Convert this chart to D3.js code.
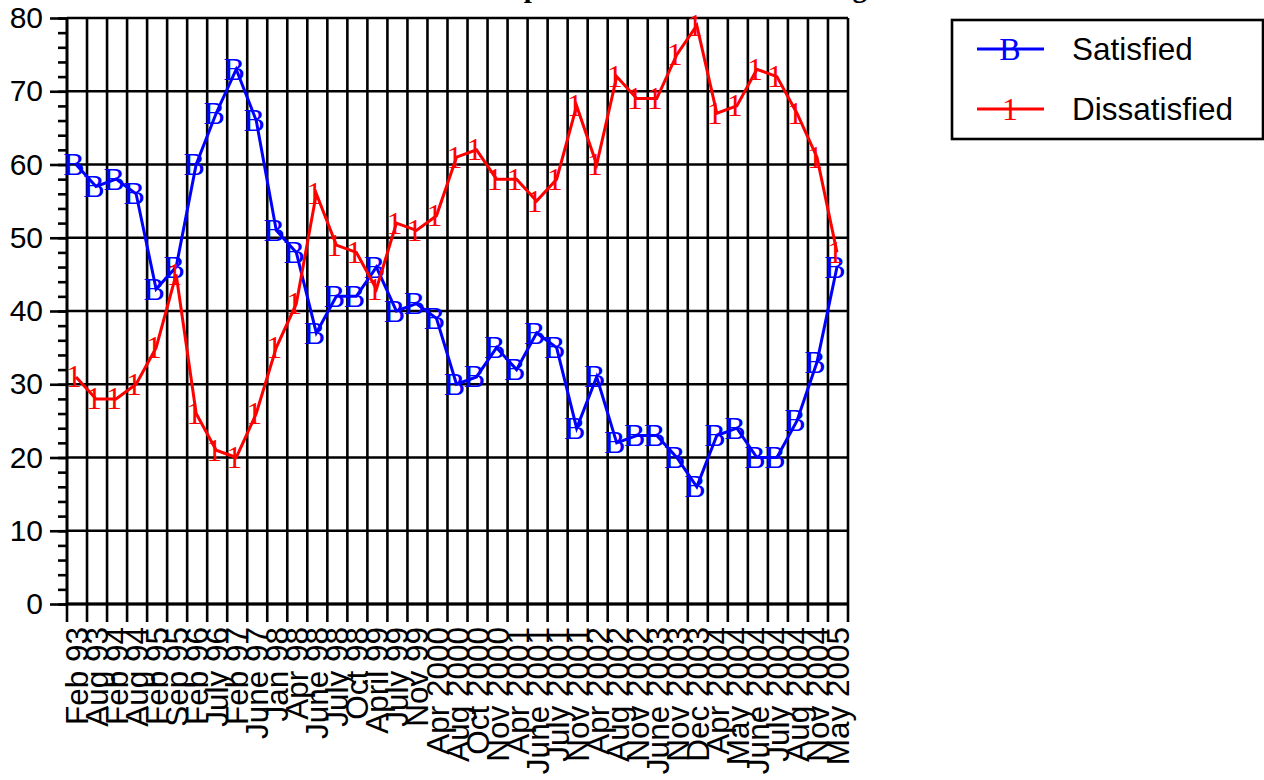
<!DOCTYPE html>
<html>
<head>
<meta charset="utf-8">
<script src="https://cdn.jsdelivr.net/npm/d3@7/dist/d3.min.js"></script>
<style>
  html, body { margin: 0; padding: 0; background: #fff; }
  #chart { width: 1264px; height: 780px; overflow: hidden; }
</style>
</head>
<body>
<div id="chart"></div>
<script>
// Survey dates (x categories)
const surveyDates = [
  'Feb 93', 'Aug 93', 'Feb 94', 'Aug 94', 'Feb 95', 'Sep 95', 'Feb 96', 'July 96',
  'Feb 97', 'June 97', 'Jan 98', 'Apr 98', 'June 98', 'July 98', 'Oct 98', 'April 99',
  'July 99', 'Nov 99', 'Apr 2000', 'Aug 2000', 'Oct 2000', 'Nov 2000', 'Apr 2001',
  'June 2001', 'July 2001', 'Nov 2001', 'Apr 2002', 'Aug 2002', 'Nov 2002', 'June 2003',
  'Nov 2003', 'Dec 2003', 'Apr 2004', 'May 2004', 'June 2004', 'July 2004', 'Aug 2004',
  'Nov 2004', 'May 2005'
];

// Percent satisfied / dissatisfied
const satisfiedValues = [
  60, 57, 58, 56, 43, 46, 60, 67, 73, 66, 51, 48, 37, 42, 42, 46, 40, 41, 39, 30,
  31, 35, 32, 37, 35, 24, 31, 22, 23, 23, 20, 16, 23, 24, 20, 20, 25, 33, 46
];
const dissatisfiedValues = [
  31, 28, 28, 30, 35, 45, 26, 21, 20, 26, 35, 41, 56, 49, 48, 43, 52, 51, 53, 61,
  62, 58, 58, 55, 58, 68, 60, 72, 69, 69, 75, 79, 67, 68, 73, 72, 67, 61, 48
];

const yTickValues = [0, 10, 20, 30, 40, 50, 60, 70, 80];
const yMinorTickValues = d3.range(0, 81, 2);
const seriesNames = ['Satisfied', 'Dissatisfied'];
const seriesMarkers = ['B', '1'];
const seriesColors = ['#0000ff', '#ff0000'];
const chartTitle = 'Public Opinion of the Nation Among Adults';

const width = 1264;
const height = 780;
const plot = { left: 67, right: 848, top: 18, bottom: 604 };

const sansFont = '"Liberation Sans", Arial, sans-serif';
const serifFont = '"Liberation Serif", "Times New Roman", serif';

const svg = d3.select('#chart')
  .append('svg')
  .attr('width', width)
  .attr('height', height);

// Scales
const x = d3.scaleBand()
  .domain(surveyDates)
  .range([plot.left, plot.right]);

const y = d3.scaleLinear()
  .domain([0, 80])
  .range([plot.bottom, plot.top]);

const cx = d => x(d) + x.bandwidth() / 2 - 1;

// Title (cut off at the top of the page, only descenders show)
svg.append('text')
  .attr('x', 415)
  .attr('y', -3)
  .style('font-family', serifFont)
  .style('font-weight', 'bold')
  .style('font-size', '29px')
  .text(chartTitle);

// Grid: horizontal lines at each major tick, vertical at every band edge
const bandEdges = surveyDates.map(d => x(d)).concat([plot.right]);

svg.append('g')
  .selectAll('line')
  .data(yTickValues)
  .join('line')
  .attr('x1', plot.left)
  .attr('x2', plot.right)
  .attr('y1', d => y(d))
  .attr('y2', d => y(d))
  .attr('stroke', '#000')
  .attr('stroke-width', 2.6);

svg.append('g')
  .selectAll('line')
  .data(bandEdges)
  .join('line')
  .attr('x1', d => d)
  .attr('x2', d => d)
  .attr('y1', plot.top)
  .attr('y2', plot.bottom + 18)
  .attr('stroke', '#000')
  .attr('stroke-width', 2.6);

// Y axis (major + minor ticks)
const yAxis = svg.append('g')
  .attr('transform', `translate(${plot.left},0)`)
  .call(d3.axisLeft(y).tickValues(yTickValues).tickSize(17).tickPadding(7));

yAxis.select('.domain').remove();
yAxis.selectAll('line').attr('stroke-width', 2.6);
yAxis.selectAll('text')
  .style('font-family', sansFont)
  .style('font-size', '30px')
  .attr('fill', '#000');

const yMinor = svg.append('g')
  .attr('transform', `translate(${plot.left},0)`)
  .call(d3.axisLeft(y).tickValues(yMinorTickValues).tickSize(9).tickFormat(''));

yMinor.select('.domain').remove();
yMinor.selectAll('line').attr('stroke-width', 2.6);

// X axis labels (rotated)
const xAxis = svg.append('g')
  .attr('transform', `translate(0,${plot.bottom})`)
  .call(d3.axisBottom(x).tickSize(0));

xAxis.select('.domain').remove();
xAxis.selectAll('text')
  .attr('transform', 'rotate(-90)')
  .attr('text-anchor', 'end')
  .attr('x', -23)
  .attr('y', 0)
  .attr('dy', '0.35em')
  .attr('fill', '#000')
  .style('font-family', sansFont)
  .style('font-size', '31.5px');

// Axis frame
svg.append('line')
  .attr('x1', plot.left).attr('x2', plot.left)
  .attr('y1', plot.top).attr('y2', plot.bottom)
  .attr('stroke', '#000').attr('stroke-width', 2.6);

svg.append('line')
  .attr('x1', plot.left).attr('x2', plot.right)
  .attr('y1', plot.bottom).attr('y2', plot.bottom)
  .attr('stroke', '#000').attr('stroke-width', 3);

// Series lines and glyph markers
const series = [satisfiedValues, dissatisfiedValues];

const line = d3.line()
  .x((d, i) => cx(surveyDates[i]))
  .y(d => y(d));

series.forEach((values, s) => {
  svg.append('path')
    .datum(values)
    .attr('fill', 'none')
    .attr('stroke', seriesColors[s])
    .attr('stroke-width', 3)
    .attr('d', line);

  svg.append('g')
    .selectAll('text')
    .data(values)
    .join('text')
    .attr('x', (d, i) => cx(surveyDates[i]) - 2)
    .attr('y', d => y(d))
    .attr('dy', '0.33em')
    .attr('text-anchor', 'middle')
    .attr('fill', seriesColors[s])
    .style('font-family', serifFont)
    .style('font-size', '32px')
    .text(seriesMarkers[s]);
});

// Legend
const legend = svg.append('g');

legend.append('rect')
  .attr('x', 952)
  .attr('y', 20)
  .attr('width', 311)
  .attr('height', 119)
  .attr('fill', '#fff')
  .attr('stroke', '#000')
  .attr('stroke-width', 2.6);

seriesNames.forEach((name, s) => {
  const rowY = 49 + s * 60;

  legend.append('line')
    .attr('x1', 977)
    .attr('x2', 1044)
    .attr('y1', rowY)
    .attr('y2', rowY)
    .attr('stroke', seriesColors[s])
    .attr('stroke-width', 3);

  legend.append('text')
    .attr('x', 1010)
    .attr('y', rowY)
    .attr('dy', '0.33em')
    .attr('text-anchor', 'middle')
    .attr('fill', seriesColors[s])
    .style('font-family', serifFont)
    .style('font-size', '32px')
    .text(seriesMarkers[s]);

  legend.append('text')
    .attr('x', 1072)
    .attr('y', rowY)
    .attr('dy', '0.35em')
    .attr('fill', '#000')
    .style('font-family', sansFont)
    .style('font-size', '31.5px')
    .text(name);
});
</script>
</body>
</html>
